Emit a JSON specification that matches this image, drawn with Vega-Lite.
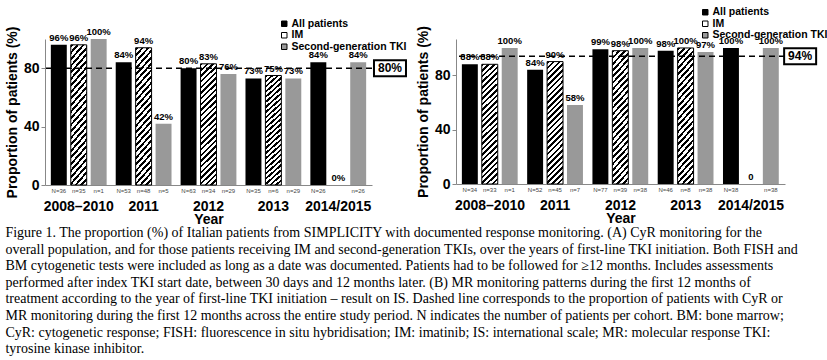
{
  "$schema": "https://vega.github.io/schema/vega-lite/v6.json",
  "background": "#ffffff",
  "padding": {"left": 5, "right": 5, "top": 7, "bottom": 2},
  "config": {
    "view": {"stroke": null},
    "font": "Liberation Sans",
    "axis": {
      "domainColor": "#888888",
      "tickColor": "#888888",
      "labelFont": "Liberation Sans",
      "labelFontWeight": "bold",
      "labelColor": "#000000",
      "labelOverlap": false,
      "titleFont": "Liberation Sans",
      "titleFontWeight": "bold",
      "titleColor": "#000000",
      "grid": false
    },
    "legend": {
      "labelFont": "Liberation Sans",
      "labelFontWeight": "bold",
      "labelFontSize": 10.5,
      "labelColor": "#000000",
      "symbolType": "square",
      "symbolSize": 30,
      "symbolStrokeColor": "#000000",
      "symbolStrokeWidth": 1,
      "rowPadding": 0.5,
      "labelOffset": 2
    }
  },
  "datasets": {
    "cyr": [
      {"year": "2008–2010", "series": "All patients", "value": 96, "label": "96%", "n": "N=36"},
      {"year": "2008–2010", "series": "IM", "value": 96, "label": "96%", "n": "n=35"},
      {"year": "2008–2010", "series": "Second-generation TKI", "value": 100, "label": "100%", "n": "n=1"},
      {"year": "2011", "series": "All patients", "value": 84, "label": "84%", "n": "N=53"},
      {"year": "2011", "series": "IM", "value": 94, "label": "94%", "n": "n=48"},
      {"year": "2011", "series": "Second-generation TKI", "value": 42, "label": "42%", "n": "n=5"},
      {"year": "2012", "series": "All patients", "value": 80, "label": "80%", "n": "N=63"},
      {"year": "2012", "series": "IM", "value": 83, "label": "83%", "n": "n=34"},
      {"year": "2012", "series": "Second-generation TKI", "value": 76, "label": "76%", "n": "n=29"},
      {"year": "2013", "series": "All patients", "value": 73, "label": "73%", "n": "N=35"},
      {"year": "2013", "series": "IM", "value": 75, "label": "75%", "n": "n=6"},
      {"year": "2013", "series": "Second-generation TKI", "value": 73, "label": "73%", "n": "n=29"},
      {"year": "2014/2015", "series": "All patients", "value": 84, "label": "84%", "n": "N=26"},
      {"year": "2014/2015", "series": "IM", "value": 0, "label": "0%", "n": ""},
      {"year": "2014/2015", "series": "Second-generation TKI", "value": 84, "label": "84%", "n": "n=26"}
    ],
    "mr": [
      {"year": "2008–2010", "series": "All patients", "value": 88, "label": "88%", "n": "N=34"},
      {"year": "2008–2010", "series": "IM", "value": 88, "label": "88%", "n": "n=33"},
      {"year": "2008–2010", "series": "Second-generation TKI", "value": 100, "label": "100%", "n": "n=1"},
      {"year": "2011", "series": "All patients", "value": 84, "label": "84%", "n": "N=52"},
      {"year": "2011", "series": "IM", "value": 90, "label": "90%", "n": "n=45"},
      {"year": "2011", "series": "Second-generation TKI", "value": 58, "label": "58%", "n": "n=7"},
      {"year": "2012", "series": "All patients", "value": 99, "label": "99%", "n": "N=77"},
      {"year": "2012", "series": "IM", "value": 98, "label": "98%", "n": "n=39"},
      {"year": "2012", "series": "Second-generation TKI", "value": 100, "label": "100%", "n": "n=38"},
      {"year": "2013", "series": "All patients", "value": 98, "label": "98%", "n": "N=46"},
      {"year": "2013", "series": "IM", "value": 100, "label": "100%", "n": "n=8"},
      {"year": "2013", "series": "Second-generation TKI", "value": 97, "label": "97%", "n": "n=38"},
      {"year": "2014/2015", "series": "All patients", "value": 100, "label": "100%", "n": "N=38"},
      {"year": "2014/2015", "series": "IM", "value": 0, "label": "0", "n": ""},
      {"year": "2014/2015", "series": "Second-generation TKI", "value": 100, "label": "100%", "n": "n=38"}
    ]
  },
  "title": {
    "text": [
      "Figure 1. The proportion (%) of Italian patients from SIMPLICITY with documented response monitoring. (A) CyR monitoring for the",
      "overall population, and for those patients receiving IM and second-generation TKIs, over the years of first-line TKI initiation. Both FISH and",
      "BM cytogenetic tests were included as long as a date was documented. Patients had to be followed for ≥12 months. Includes assessments",
      "performed after index TKI start date, between 30 days and 12 months later. (B) MR monitoring patterns during the first 12 months of",
      "treatment according to the year of first-line TKI initiation – result on IS. Dashed line corresponds to the proportion of patients with CyR or",
      "MR monitoring during the first 12 months across the entire study period. N indicates the number of patients per cohort. BM: bone marrow;",
      "CyR: cytogenetic response; FISH: fluorescence in situ hybridisation; IM: imatinib; IS: international scale; MR: molecular response TKI:",
      "tyrosine kinase inhibitor."
    ],
    "orient": "bottom",
    "anchor": "start",
    "frame": "bounds",
    "font": "Liberation Serif",
    "fontSize": 14,
    "fontWeight": "normal",
    "color": "#000000",
    "lineHeight": 16.6,
    "offset": 0
  },
  "spacing": 6,
  "resolve": {"scale": {"color": "independent"}, "legend": {"color": "independent"}},
  "hconcat": [
    {
      "width": 327,
      "height": 146,
      "layer": [
        {
          "data": {"name": "cyr"},
          "encoding": {
            "x": {"field": "year", "type": "nominal", "sort": null, "scale": {"paddingInner": 0.14, "paddingOuter": 0.09},
              "axis": {"title": "Year", "labelAngle": 0, "labelFontSize": 14, "titleFontSize": 14, "ticks": false, "labelPadding": 14, "titlePadding": -1}},
            "xOffset": {"field": "series", "type": "nominal", "sort": ["All patients", "IM", "Second-generation TKI"], "scale": {"paddingInner": 0.2, "paddingOuter": 0}},
            "y": {"field": "value", "type": "quantitative", "scale": {"domain": [0, 100]},
              "axis": {"title": "Proportion of patients (%)", "values": [0, 20, 40, 60, 80, 100], "labelOverlap": false, "labelFontSize": 14, "titleFontSize": 14, "tickSize": 4, "labelPadding": 2, "titlePadding": 4}}
          },
          "layer": [
            {
              "mark": {"type": "bar"},
              "encoding": {
                "color": {"field": "series", "type": "nominal",
                  "scale": {"domain": ["All patients", "IM", "Second-generation TKI"], "range": ["#000000", "#ffffff", "#999999"]},
                  "legend": {"orient": "none", "legendX": 234, "legendY": -20.5, "title": null}}
              }
            },
            {
              "transform": [{"filter": "datum.series === 'IM' && datum.value > 0"}],
              "mark": {"type": "bar", "stroke": "#000000", "strokeWidth": 1,
                "fill": {"gradient": "linear", "x1": 0, "y1": 0, "x2": 0.15, "y2": 1.15, "stops": [
                  {"offset": 0, "color": "#000"}, {"offset": 0.018, "color": "#000"}, {"offset": 0.018, "color": "#fff"}, {"offset": 0.04, "color": "#fff"},
                  {"offset": 0.04, "color": "#000"}, {"offset": 0.058, "color": "#000"}, {"offset": 0.058, "color": "#fff"}, {"offset": 0.08, "color": "#fff"},
                  {"offset": 0.08, "color": "#000"}, {"offset": 0.098, "color": "#000"}, {"offset": 0.098, "color": "#fff"}, {"offset": 0.12, "color": "#fff"},
                  {"offset": 0.12, "color": "#000"}, {"offset": 0.138, "color": "#000"}, {"offset": 0.138, "color": "#fff"}, {"offset": 0.16, "color": "#fff"},
                  {"offset": 0.16, "color": "#000"}, {"offset": 0.178, "color": "#000"}, {"offset": 0.178, "color": "#fff"}, {"offset": 0.2, "color": "#fff"},
                  {"offset": 0.2, "color": "#000"}, {"offset": 0.218, "color": "#000"}, {"offset": 0.218, "color": "#fff"}, {"offset": 0.24, "color": "#fff"},
                  {"offset": 0.24, "color": "#000"}, {"offset": 0.258, "color": "#000"}, {"offset": 0.258, "color": "#fff"}, {"offset": 0.28, "color": "#fff"},
                  {"offset": 0.28, "color": "#000"}, {"offset": 0.298, "color": "#000"}, {"offset": 0.298, "color": "#fff"}, {"offset": 0.32, "color": "#fff"},
                  {"offset": 0.32, "color": "#000"}, {"offset": 0.338, "color": "#000"}, {"offset": 0.338, "color": "#fff"}, {"offset": 0.36, "color": "#fff"},
                  {"offset": 0.36, "color": "#000"}, {"offset": 0.378, "color": "#000"}, {"offset": 0.378, "color": "#fff"}, {"offset": 0.4, "color": "#fff"},
                  {"offset": 0.4, "color": "#000"}, {"offset": 0.418, "color": "#000"}, {"offset": 0.418, "color": "#fff"}, {"offset": 0.44, "color": "#fff"},
                  {"offset": 0.44, "color": "#000"}, {"offset": 0.458, "color": "#000"}, {"offset": 0.458, "color": "#fff"}, {"offset": 0.48, "color": "#fff"},
                  {"offset": 0.48, "color": "#000"}, {"offset": 0.498, "color": "#000"}, {"offset": 0.498, "color": "#fff"}, {"offset": 0.52, "color": "#fff"},
                  {"offset": 0.52, "color": "#000"}, {"offset": 0.538, "color": "#000"}, {"offset": 0.538, "color": "#fff"}, {"offset": 0.56, "color": "#fff"},
                  {"offset": 0.56, "color": "#000"}, {"offset": 0.578, "color": "#000"}, {"offset": 0.578, "color": "#fff"}, {"offset": 0.6, "color": "#fff"},
                  {"offset": 0.6, "color": "#000"}, {"offset": 0.618, "color": "#000"}, {"offset": 0.618, "color": "#fff"}, {"offset": 0.64, "color": "#fff"},
                  {"offset": 0.64, "color": "#000"}, {"offset": 0.658, "color": "#000"}, {"offset": 0.658, "color": "#fff"}, {"offset": 0.68, "color": "#fff"},
                  {"offset": 0.68, "color": "#000"}, {"offset": 0.698, "color": "#000"}, {"offset": 0.698, "color": "#fff"}, {"offset": 0.72, "color": "#fff"},
                  {"offset": 0.72, "color": "#000"}, {"offset": 0.738, "color": "#000"}, {"offset": 0.738, "color": "#fff"}, {"offset": 0.76, "color": "#fff"},
                  {"offset": 0.76, "color": "#000"}, {"offset": 0.778, "color": "#000"}, {"offset": 0.778, "color": "#fff"}, {"offset": 0.8, "color": "#fff"},
                  {"offset": 0.8, "color": "#000"}, {"offset": 0.818, "color": "#000"}, {"offset": 0.818, "color": "#fff"}, {"offset": 0.84, "color": "#fff"},
                  {"offset": 0.84, "color": "#000"}, {"offset": 0.858, "color": "#000"}, {"offset": 0.858, "color": "#fff"}, {"offset": 0.88, "color": "#fff"},
                  {"offset": 0.88, "color": "#000"}, {"offset": 0.898, "color": "#000"}, {"offset": 0.898, "color": "#fff"}, {"offset": 0.92, "color": "#fff"},
                  {"offset": 0.92, "color": "#000"}, {"offset": 0.938, "color": "#000"}, {"offset": 0.938, "color": "#fff"}, {"offset": 0.96, "color": "#fff"},
                  {"offset": 0.96, "color": "#000"}, {"offset": 0.978, "color": "#000"}, {"offset": 0.978, "color": "#fff"}, {"offset": 1, "color": "#fff"}
                ]}}
            },
            {
              "mark": {"type": "text", "baseline": "bottom", "dy": -2, "fontSize": 9.5, "fontWeight": "bold", "color": "#000000"},
              "encoding": {"text": {"field": "label"}}
            },
            {
              "mark": {"type": "text", "baseline": "top", "dy": 3, "fontSize": 6, "color": "#444444"},
              "encoding": {"y": {"datum": 0}, "text": {"field": "n"}}
            }
          ]
        },
        {
          "data": {"values": [{"ref": "80%"}]},
          "mark": {"type": "rule", "strokeDash": [6, 4], "strokeWidth": 1.5, "color": "#000000"},
          "encoding": {"y": {"datum": 80}}
        },
        {
          "data": {"values": [{"ref": "80%"}]},
          "encoding": {
            "x": {"datum": 1.055, "type": "quantitative", "scale": {"domain": [0, 1]}, "axis": null},
            "y": {"datum": 80}
          },
          "layer": [
            {"mark": {"type": "point", "shape": "M-1,-0.5H1V0.5H-1Z", "size": 1024, "filled": true, "fill": "#ffffff", "stroke": "#000000", "strokeWidth": 2, "opacity": 1}},
            {"mark": {"type": "text", "fontSize": 12, "fontWeight": "bold", "color": "#000000"}, "encoding": {"text": {"field": "ref"}}}
          ]
        }
      ],
      "resolve": {"scale": {"x": "independent"}}
    },
    {
      "width": 329,
      "height": 145,
      "layer": [
        {
          "data": {"name": "mr"},
          "encoding": {
            "x": {"field": "year", "type": "nominal", "sort": null, "scale": {"paddingInner": 0.14, "paddingOuter": 0.09},
              "axis": {"title": "Year", "labelAngle": 0, "labelFontSize": 14, "titleFontSize": 14, "ticks": false, "labelPadding": 14, "titlePadding": -1}},
            "xOffset": {"field": "series", "type": "nominal", "sort": ["All patients", "IM", "Second-generation TKI"], "scale": {"paddingInner": 0.2, "paddingOuter": 0}},
            "y": {"field": "value", "type": "quantitative", "scale": {"domain": [0, 106.6], "nice": false},
              "axis": {"title": "Proportion of patients (%)", "values": [0, 20, 40, 60, 80, 100], "labelOverlap": false, "labelFontSize": 14, "titleFontSize": 14, "tickSize": 4, "labelPadding": 2, "titlePadding": 4}}
          },
          "layer": [
            {
              "mark": {"type": "bar"},
              "encoding": {
                "color": {"field": "series", "type": "nominal",
                  "scale": {"domain": ["All patients", "IM", "Second-generation TKI"], "range": ["#000000", "#ffffff", "#999999"]},
                  "legend": {"orient": "none", "legendX": 244, "legendY": -32, "title": null}}
              }
            },
            {
              "transform": [{"filter": "datum.series === 'IM' && datum.value > 0"}],
              "mark": {"type": "bar", "stroke": "#000000", "strokeWidth": 1,
                "fill": {"gradient": "linear", "x1": 0, "y1": 0, "x2": 0.15, "y2": 1.15, "stops": [
                  {"offset": 0, "color": "#000"}, {"offset": 0.018, "color": "#000"}, {"offset": 0.018, "color": "#fff"}, {"offset": 0.04, "color": "#fff"},
                  {"offset": 0.04, "color": "#000"}, {"offset": 0.058, "color": "#000"}, {"offset": 0.058, "color": "#fff"}, {"offset": 0.08, "color": "#fff"},
                  {"offset": 0.08, "color": "#000"}, {"offset": 0.098, "color": "#000"}, {"offset": 0.098, "color": "#fff"}, {"offset": 0.12, "color": "#fff"},
                  {"offset": 0.12, "color": "#000"}, {"offset": 0.138, "color": "#000"}, {"offset": 0.138, "color": "#fff"}, {"offset": 0.16, "color": "#fff"},
                  {"offset": 0.16, "color": "#000"}, {"offset": 0.178, "color": "#000"}, {"offset": 0.178, "color": "#fff"}, {"offset": 0.2, "color": "#fff"},
                  {"offset": 0.2, "color": "#000"}, {"offset": 0.218, "color": "#000"}, {"offset": 0.218, "color": "#fff"}, {"offset": 0.24, "color": "#fff"},
                  {"offset": 0.24, "color": "#000"}, {"offset": 0.258, "color": "#000"}, {"offset": 0.258, "color": "#fff"}, {"offset": 0.28, "color": "#fff"},
                  {"offset": 0.28, "color": "#000"}, {"offset": 0.298, "color": "#000"}, {"offset": 0.298, "color": "#fff"}, {"offset": 0.32, "color": "#fff"},
                  {"offset": 0.32, "color": "#000"}, {"offset": 0.338, "color": "#000"}, {"offset": 0.338, "color": "#fff"}, {"offset": 0.36, "color": "#fff"},
                  {"offset": 0.36, "color": "#000"}, {"offset": 0.378, "color": "#000"}, {"offset": 0.378, "color": "#fff"}, {"offset": 0.4, "color": "#fff"},
                  {"offset": 0.4, "color": "#000"}, {"offset": 0.418, "color": "#000"}, {"offset": 0.418, "color": "#fff"}, {"offset": 0.44, "color": "#fff"},
                  {"offset": 0.44, "color": "#000"}, {"offset": 0.458, "color": "#000"}, {"offset": 0.458, "color": "#fff"}, {"offset": 0.48, "color": "#fff"},
                  {"offset": 0.48, "color": "#000"}, {"offset": 0.498, "color": "#000"}, {"offset": 0.498, "color": "#fff"}, {"offset": 0.52, "color": "#fff"},
                  {"offset": 0.52, "color": "#000"}, {"offset": 0.538, "color": "#000"}, {"offset": 0.538, "color": "#fff"}, {"offset": 0.56, "color": "#fff"},
                  {"offset": 0.56, "color": "#000"}, {"offset": 0.578, "color": "#000"}, {"offset": 0.578, "color": "#fff"}, {"offset": 0.6, "color": "#fff"},
                  {"offset": 0.6, "color": "#000"}, {"offset": 0.618, "color": "#000"}, {"offset": 0.618, "color": "#fff"}, {"offset": 0.64, "color": "#fff"},
                  {"offset": 0.64, "color": "#000"}, {"offset": 0.658, "color": "#000"}, {"offset": 0.658, "color": "#fff"}, {"offset": 0.68, "color": "#fff"},
                  {"offset": 0.68, "color": "#000"}, {"offset": 0.698, "color": "#000"}, {"offset": 0.698, "color": "#fff"}, {"offset": 0.72, "color": "#fff"},
                  {"offset": 0.72, "color": "#000"}, {"offset": 0.738, "color": "#000"}, {"offset": 0.738, "color": "#fff"}, {"offset": 0.76, "color": "#fff"},
                  {"offset": 0.76, "color": "#000"}, {"offset": 0.778, "color": "#000"}, {"offset": 0.778, "color": "#fff"}, {"offset": 0.8, "color": "#fff"},
                  {"offset": 0.8, "color": "#000"}, {"offset": 0.818, "color": "#000"}, {"offset": 0.818, "color": "#fff"}, {"offset": 0.84, "color": "#fff"},
                  {"offset": 0.84, "color": "#000"}, {"offset": 0.858, "color": "#000"}, {"offset": 0.858, "color": "#fff"}, {"offset": 0.88, "color": "#fff"},
                  {"offset": 0.88, "color": "#000"}, {"offset": 0.898, "color": "#000"}, {"offset": 0.898, "color": "#fff"}, {"offset": 0.92, "color": "#fff"},
                  {"offset": 0.92, "color": "#000"}, {"offset": 0.938, "color": "#000"}, {"offset": 0.938, "color": "#fff"}, {"offset": 0.96, "color": "#fff"},
                  {"offset": 0.96, "color": "#000"}, {"offset": 0.978, "color": "#000"}, {"offset": 0.978, "color": "#fff"}, {"offset": 1, "color": "#fff"}
                ]}}
            },
            {
              "mark": {"type": "text", "baseline": "bottom", "dy": -2, "fontSize": 9.5, "fontWeight": "bold", "color": "#000000"},
              "encoding": {"text": {"field": "label"}}
            },
            {
              "mark": {"type": "text", "baseline": "top", "dy": 3, "fontSize": 6, "color": "#444444"},
              "encoding": {"y": {"datum": 0}, "text": {"field": "n"}}
            }
          ]
        },
        {
          "data": {"values": [{"ref": "94%"}]},
          "mark": {"type": "rule", "strokeDash": [6, 4], "strokeWidth": 1.5, "color": "#000000"},
          "encoding": {"y": {"datum": 94}}
        },
        {
          "data": {"values": [{"ref": "94%"}]},
          "encoding": {
            "x": {"datum": 1.046, "type": "quantitative", "scale": {"domain": [0, 1]}, "axis": null},
            "y": {"datum": 94}
          },
          "layer": [
            {"mark": {"type": "point", "shape": "M-1,-0.5H1V0.5H-1Z", "size": 1024, "filled": true, "fill": "#ffffff", "stroke": "#000000", "strokeWidth": 2, "opacity": 1}},
            {"mark": {"type": "text", "fontSize": 12, "fontWeight": "bold", "color": "#000000"}, "encoding": {"text": {"field": "ref"}}}
          ]
        }
      ],
      "resolve": {"scale": {"x": "independent"}}
    }
  ]
}
